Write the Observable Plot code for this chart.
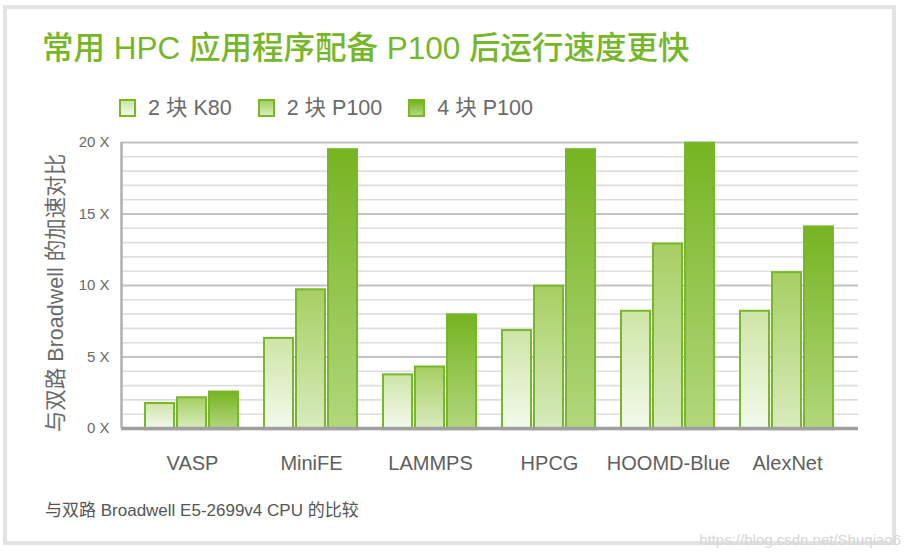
<!DOCTYPE html>
<html>
<head>
<meta charset="utf-8">
<script src="https://cdn.jsdelivr.net/npm/d3@7"></script>
<script src="https://cdn.jsdelivr.net/npm/@observablehq/plot@0.6"></script>
<style>
  html, body { margin: 0; padding: 0; background: #fff; }
  body { width: 911px; height: 558px; position: relative; overflow: hidden;
         font-family: "Liberation Sans", "Noto Sans CJK SC", sans-serif; }
  #frame { position: absolute; left: 3px; top: 5px; width: 893px; height: 540px;
           box-sizing: border-box; border: 4px solid #e3e3e3; }
  #title { position: absolute; left: 42px; top: 27px; font-size: 31.5px; font-weight: 500;
           color: #76b72a; white-space: nowrap; line-height: 42px; }
  #legend { position: absolute; left: 119px; top: 96px; display: flex; align-items: center;
            font-size: 21.5px; color: #6a6a6a; line-height: 24px; }
  .item { display: flex; align-items: center; margin-right: 26px; }
  .sw { width: 17px; height: 18px; box-sizing: border-box; border: 2px solid #77b82a; margin-right: 12px; }
  #ylabel { position: absolute; left: 53px; top: 293px; transform: translate(-50%, -50%) rotate(-90deg);
            font-size: 21.5px; color: #6a6a6a; white-space: nowrap; }
  .layer { position: absolute; left: 0; top: 120px; }
  #caption { position: absolute; left: 45px; top: 496px; font-size: 17px; color: #555; white-space: nowrap; }
  #wm { position: absolute; right: 10px; top: 531px; font-family: "Liberation Sans", Arial, sans-serif;
        font-size: 15px; color: #d6d6d6; white-space: nowrap; }
</style>
</head>
<body>
<div id="frame"></div>
<div id="title">常用 HPC 应用程序配备 P100 后运行速度更快</div>
<div id="legend"></div>
<div id="ylabel">与双路 Broadwell 的加速对比</div>
<div id="grid" class="layer"></div>
<div id="bars" class="layer"></div>
<div id="caption">与双路 Broadwell E5-2699v4 CPU 的比较</div>
<div id="wm">https://blog.csdn.net/Shuqiao6</div>
<script>
// ---- data ----
const categories = ["VASP", "MiniFE", "LAMMPS", "HPCG", "HOOMD-Blue", "AlexNet"];
const seriesNames = ["2 块 K80", "2 块 P100", "4 块 P100"];
const k80x2  = [1.75, 6.3, 3.75, 6.85, 8.2, 8.2];
const p100x2 = [2.15, 9.7, 4.3, 9.95, 12.9, 10.9];
const p100x4 = [2.55, 19.5, 7.95, 19.5, 19.95, 14.1];
const yTicks = [0, 5, 10, 15, 20];
const yTickLabels = ["0 X", "5 X", "10 X", "15 X", "20 X"];
const minorGrid = [1, 2, 3, 4, 6, 7, 8, 9, 11, 12, 13, 14, 16, 17, 18, 19];

// gradient stops (top, bottom) per series
const gradTop = ["#cde5a6", "#a6cf62", "#76b421"];
const gradBottom = ["#f3f9ec", "#d8ebbd", "#b2d77c"];
const barStroke = "#77b82a";

const seriesValues = [k80x2, p100x2, p100x4];
const rows = [];
seriesNames.forEach((s, j) => categories.forEach((c, i) => rows.push({category: c, series: s, value: seriesValues[j][i]})));

// ---- legend ----
const legend = d3.select("#legend");
seriesNames.forEach((s, j) => {
  const it = legend.append("div").attr("class", "item");
  it.append("div").attr("class", "sw")
    .style("background", `linear-gradient(${gradTop[j]}, ${gradBottom[j]})`);
  it.append("span").text(s);
});

const font = '"Liberation Sans", "Noto Sans CJK SC", sans-serif';
const common = {
  width: 911, height: 360,
  marginLeft: 121, marginRight: 53, marginTop: 22, marginBottom: 52,
  style: {background: "transparent", fontFamily: font, overflow: "visible"}
};

// ---- grid layer (not faceted) ----
const gridSvg = Plot.plot({
  ...common,
  x: {domain: [0, 1], axis: null},
  y: {domain: [0, 20], label: null},
  marks: [
    Plot.ruleY(minorGrid, {stroke: "#dedede", strokeWidth: 1.6}),
    Plot.ruleY(yTicks.slice(1), {stroke: "#c2c2c2", strokeWidth: 2}),
    Plot.ruleX([0], {stroke: "#b0b0b0", strokeWidth: 2.5}),
    Plot.ruleY([0], {stroke: "#a0a0a0", strokeWidth: 3.5}),
    Plot.axisY({ticks: yTicks, tickFormat: d => yTickLabels[yTicks.indexOf(d)], tickSize: 0, tickPadding: 12,
                fontSize: 15, fill: "#6a6a6a", label: null})
  ]
});
document.getElementById("grid").appendChild(gridSvg);

// ---- bar layer (faceted by application) ----
const barSvg = Plot.plot({
  ...common,
  fx: {domain: categories, paddingInner: 0.196, paddingOuter: 0.17, label: null},
  x: {domain: seriesNames, paddingInner: 0.09, paddingOuter: 0, axis: null},
  y: {domain: [0, 20], axis: null},
  marks: [
    ...seriesNames.map((s, j) =>
      Plot.barY(rows.filter(d => d.series === s), {
        fx: "category", x: "series", y: "value",
        fill: `url(#grad${j})`, stroke: barStroke, strokeWidth: 2
      })
    ),
    Plot.ruleY([0], {stroke: "#a0a0a0", strokeWidth: 3.5}),
    Plot.axisFx({anchor: "bottom", tickSize: 0, tickPadding: 27, fontSize: 20, fill: "#5e5e5e", label: null})
  ]
});
const defs = d3.create("svg:defs");
seriesNames.forEach((s, j) => {
  const g = defs.append("linearGradient").attr("id", `grad${j}`)
    .attr("x1", 0).attr("y1", 0).attr("x2", 0).attr("y2", 1);
  g.append("stop").attr("offset", "0%").attr("stop-color", gradTop[j]);
  g.append("stop").attr("offset", "100%").attr("stop-color", gradBottom[j]);
});
barSvg.insertBefore(defs.node(), barSvg.firstChild);
document.getElementById("bars").appendChild(barSvg);
</script>
</body>
</html>
